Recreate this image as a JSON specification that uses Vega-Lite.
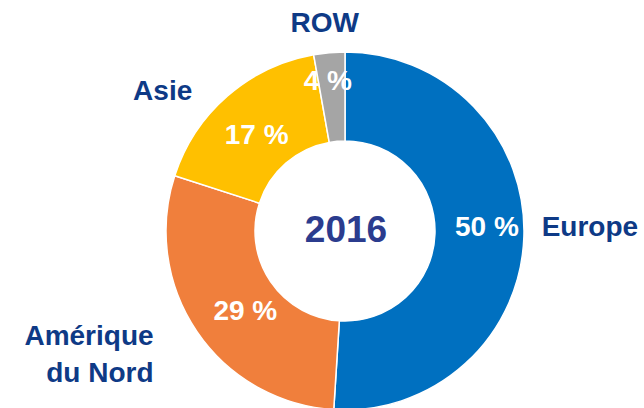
{
  "$schema": "https://vega.github.io/schema/vega-lite/v6.json",
  "autosize": "none",
  "padding": 0,
  "width": 690,
  "height": 462,
  "background": "white",
  "view": {"stroke": null},
  "data": {
    "values": [
      {"cat": "Europe", "label": "Europe", "plabel": "50 %", "pct": 51.0, "order": 1},
      {"cat": "Amérique du Nord", "label": "Amérique\ndu Nord", "plabel": "29 %", "pct": 29.0, "order": 2},
      {"cat": "Asie", "label": "Asie", "plabel": "17 %", "pct": 17.2, "order": 3},
      {"cat": "ROW", "label": "ROW", "plabel": "4 %", "pct": 2.8, "order": 4}
    ]
  },
  "encoding": {
    "theta": {"field": "pct", "type": "quantitative", "stack": true, "scale": {"domain": [0, 100]}},
    "order": {"field": "order", "type": "quantitative", "sort": "ascending"}
  },
  "layer": [
    {
      "mark": {"type": "arc", "outerRadius": 179, "innerRadius": 90, "stroke": "white", "strokeWidth": 1.5},
      "encoding": {
        "color": {
          "field": "cat", "type": "nominal", "legend": null,
          "scale": {"domain": ["Europe", "Amérique du Nord", "Asie", "ROW"], "range": ["#0070C0", "#F07F3C", "#FFC000", "#A5A5A5"]}
        }
      }
    },
    {
      "mark": {"type": "text", "radius": 142, "font": "Liberation Sans", "fontWeight": "bold", "fontSize": 28, "fill": "white", "align": "center", "baseline": "middle", "dy": -7},
      "encoding": {"text": {"condition": {"test": "datum.cat === 'Europe'", "field": "plabel"}, "value": ""}}
    },
    {
      "mark": {"type": "text", "radius": 129, "font": "Liberation Sans", "fontWeight": "bold", "fontSize": 28, "fill": "white", "align": "center", "baseline": "middle", "dx": 7, "dy": 8},
      "encoding": {"text": {"condition": {"test": "datum.cat === 'Amérique du Nord'", "field": "plabel"}, "value": ""}}
    },
    {
      "mark": {"type": "text", "radius": 130, "font": "Liberation Sans", "fontWeight": "bold", "fontSize": 28, "fill": "white", "align": "center", "baseline": "middle", "dx": -3, "dy": 3},
      "encoding": {"text": {"condition": {"test": "datum.cat === 'Asie'", "field": "plabel"}, "value": ""}}
    },
    {
      "mark": {"type": "text", "radius": 150, "font": "Liberation Sans", "fontWeight": "bold", "fontSize": 28, "fill": "white", "align": "center", "baseline": "middle", "dx": -4},
      "encoding": {"text": {"condition": {"test": "datum.cat === 'ROW'", "field": "plabel"}, "value": ""}}
    },
    {
      "mark": {"type": "text", "radius": 245, "font": "Liberation Sans", "fontWeight": "bold", "fontSize": 28, "fill": "#0E3A86", "align": "center", "baseline": "middle", "dy": -11},
      "encoding": {"text": {"condition": {"test": "datum.cat === 'Europe'", "field": "label"}, "value": ""}}
    },
    {
      "mark": {"type": "text", "radius": 208, "font": "Liberation Sans", "fontWeight": "bold", "fontSize": 28, "fill": "#0E3A86", "align": "center", "baseline": "middle", "dx": -2},
      "encoding": {"text": {"condition": {"test": "datum.cat === 'ROW'", "field": "label"}, "value": ""}}
    },
    {
      "mark": {"type": "text", "radius": 200, "font": "Liberation Sans", "fontWeight": "bold", "fontSize": 28, "fill": "#0E3A86", "align": "center", "baseline": "middle", "dx": -51, "dy": 12},
      "encoding": {"text": {"condition": {"test": "datum.cat === 'Asie'", "field": "label"}, "value": ""}}
    },
    {
      "mark": {"type": "text", "radius": 200, "font": "Liberation Sans", "fontWeight": "bold", "fontSize": 28, "fill": "#0E3A86", "align": "right", "baseline": "middle", "dx": -26, "dy": -6, "lineBreak": "\n", "lineHeight": 37},
      "encoding": {"text": {"condition": {"test": "datum.cat === 'Amérique du Nord'", "field": "label"}, "value": ""}}
    },
    {
      "data": {"values": [{"t": "2016"}]},
      "mark": {"type": "text", "font": "Liberation Sans", "fontWeight": "bold", "fontSize": 37, "fill": "#2B3C8E", "align": "center", "baseline": "middle", "dx": 1},
      "encoding": {"text": {"field": "t"}, "theta": null, "order": null}
    }
  ]
}
